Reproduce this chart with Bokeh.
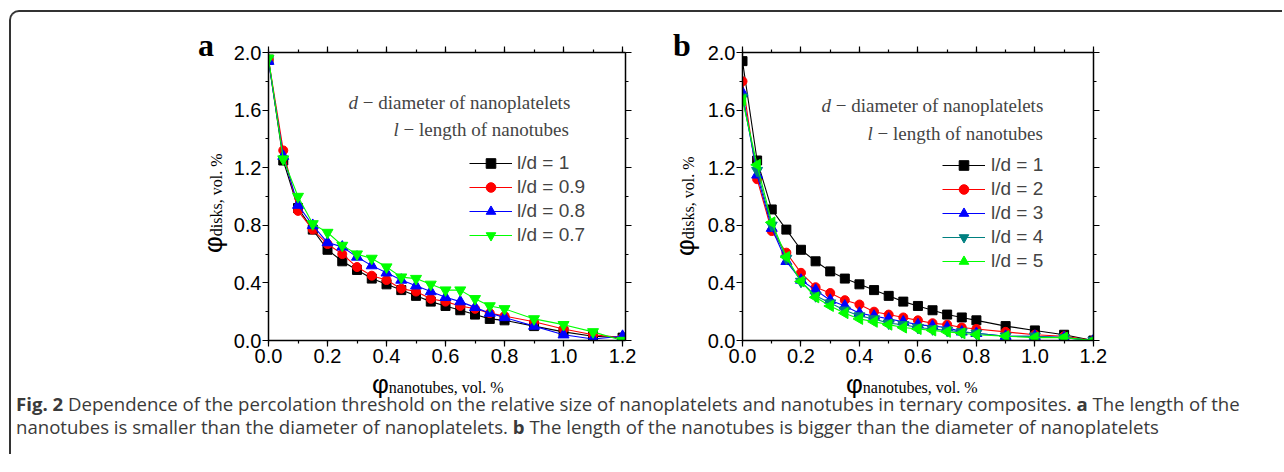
import math
from bokeh.plotting import figure
from bokeh.models import (LinearAxis, SingleIntervalTicker, PrintfTickFormatter,
                          Label, Legend, LegendItem, Div)
from bokeh.layouts import row, column
from bokeh.embed import file_html
from bokeh.resources import INLINE

# ---------------- data ----------------
phi_nanotubes = [0.0, 0.05, 0.1, 0.15, 0.2, 0.25, 0.3, 0.35, 0.4, 0.45, 0.5,
                 0.55, 0.6, 0.65, 0.7, 0.75, 0.8, 0.9, 1.0, 1.1, 1.2]

# panel a : l/d < 1
labels_a = ["l/d = 1", "l/d = 0.9", "l/d = 0.8", "l/d = 0.7"]
a_ld_1 = [1.95, 1.25, 0.92, 0.77, 0.63, 0.55, 0.49, 0.43, 0.39, 0.35, 0.31,
          0.27, 0.24, 0.21, 0.18, 0.15, 0.14, 0.10, 0.06, 0.03, 0.02]
a_ld_09 = [1.95, 1.32, 0.90, 0.77, 0.67, 0.60, 0.51, 0.45, 0.42, 0.36, 0.34,
           0.29, 0.27, 0.24, 0.22, 0.19, 0.17, 0.13, 0.08, 0.04, 0.02]
a_ld_08 = [1.94, 1.28, 0.94, 0.80, 0.68, 0.65, 0.58, 0.52, 0.47, 0.42, 0.38,
           0.34, 0.30, 0.27, 0.23, 0.19, 0.16, 0.10, 0.04, 0.01, 0.03]
a_ld_07 = [1.96, 1.26, 1.00, 0.81, 0.75, 0.66, 0.60, 0.57, 0.51, 0.44, 0.43,
           0.39, 0.35, 0.35, 0.29, 0.24, 0.22, 0.15, 0.11, 0.06, 0.00]

# panel b : l/d > 1
labels_b = ["l/d = 1", "l/d = 2", "l/d = 3", "l/d = 4", "l/d = 5"]
b_ld_1 = [1.94, 1.25, 0.91, 0.77, 0.63, 0.55, 0.48, 0.43, 0.39, 0.35, 0.31,
          0.27, 0.24, 0.21, 0.18, 0.16, 0.14, 0.10, 0.07, 0.04, 0.00]
b_ld_2 = [1.80, 1.12, 0.76, 0.61, 0.47, 0.37, 0.33, 0.28, 0.25, 0.20, 0.18,
          0.16, 0.14, 0.12, 0.11, 0.09, 0.08, 0.06, 0.04, 0.03, 0.00]
b_ld_3 = [1.72, 1.15, 0.78, 0.55, 0.42, 0.35, 0.28, 0.24, 0.19, 0.17, 0.15,
          0.13, 0.11, 0.10, 0.09, 0.06, 0.05, 0.03, 0.03, 0.02, 0.00]
b_ld_4 = [1.69, 1.18, 0.80, 0.57, 0.41, 0.31, 0.26, 0.21, 0.17, 0.15, 0.12,
          0.11, 0.09, 0.08, 0.07, 0.06, 0.05, 0.03, 0.03, 0.02, 0.00]
b_ld_5 = [1.67, 1.22, 0.82, 0.58, 0.41, 0.30, 0.24, 0.19, 0.15, 0.13, 0.11,
          0.09, 0.08, 0.07, 0.06, 0.05, 0.04, 0.03, 0.02, 0.02, 0.00]

x_label_main = "φ"
x_label_sub = "nanotubes"
y_label_sub = "disks"
unit_text = ", vol. %"
note_d = ("d", "− diameter of nanoplatelets")
note_l = ("l", "− length of nanotubes")
caption_html = ("<b>Fig. 2</b> Dependence of the percolation threshold on the relative size of "
                "nanoplatelets and nanotubes in ternary composites. <b>a</b> The length of the<br>"
                "nanotubes is smaller than the diameter of nanoplatelets. <b>b</b> The length of "
                "the nanotubes is bigger than the diameter of nanoplatelets")

SANS = "Liberation Sans"
SERIF = "Liberation Serif"

ORIGIN_X, ORIGIN_Y = 11, 12      # page position of layout content
FIG_H = 358
MB_TOP, FRAME_H = 40, 288


class Panel:
    def __init__(self, page_left, mb_left, fw, mb_right, xmax):
        self.frame_left = page_left + mb_left
        self.frame_top = ORIGIN_Y + MB_TOP
        self.fw, self.fh, self.xmax = fw, FRAME_H, xmax
        p = figure(width=mb_left + fw + mb_right, height=FIG_H, title=None,
                   x_range=(0, xmax), y_range=(0, 2.0),
                   output_backend="svg", toolbar_location=None,
                   min_border_left=mb_left, min_border_right=mb_right,
                   min_border_top=MB_TOP, min_border_bottom=FIG_H - MB_TOP - FRAME_H,
                   background_fill_color="white", border_fill_color="white",
                   outline_line_color=None)
        self.p = p
        p.xgrid.visible = False
        p.ygrid.visible = False
        xt = SingleIntervalTicker(interval=0.2, num_minor_ticks=2)
        yt = SingleIntervalTicker(interval=0.4, num_minor_ticks=2)
        bottom = p.below[0]
        left = p.left[0]
        bottom.ticker = xt
        left.ticker = yt
        top = LinearAxis(ticker=xt)
        right = LinearAxis(ticker=yt)
        p.add_layout(top, "above")
        p.add_layout(right, "right")
        for ax in [bottom, left, top, right]:
            ax.axis_line_width = 1.5
            ax.axis_line_color = "black"
            ax.major_tick_line_color = "black"
            ax.minor_tick_line_color = "black"
            ax.major_tick_line_width = 1.2
            ax.minor_tick_line_width = 1.2
            ax.major_tick_out = 6
            ax.major_tick_in = 0
            ax.minor_tick_out = 3
            ax.minor_tick_in = 0
            ax.formatter = PrintfTickFormatter(format="%.1f")
            ax.major_label_text_font = SANS
            ax.major_label_text_font_size = "20px"
            ax.major_label_text_color = "black"
        bottom.major_label_standoff = 2
        left.major_label_standoff = 1
        for ax in [top, right]:
            ax.major_label_text_font_size = "0px"
            ax.major_label_standoff = 0

    def label(self, px, py, text, **kw):
        x = (px - self.frame_left) / self.fw * self.xmax
        y = (self.frame_top + self.fh - py) / self.fh * 2.0
        self.p.add_layout(Label(x=x, y=y, text=text, **kw))


def add_series(pn, ys, color, marker, size, angle=0.0):
    lr = pn.p.line(phi_nanotubes, ys, line_color=color, line_width=1.1)
    sr = pn.p.scatter(phi_nanotubes, ys, marker=marker, size=size, angle=angle,
                      fill_color=color, line_color=color)
    return [lr, sr]


def notes(pn, dx, lx, dy, ly):
    pn.label(dx, dy, note_d[0], text_font=SERIF, text_font_style="italic",
             text_font_size="19px", text_baseline="middle")
    pn.label(dx + 14.3, dy, note_d[1], text_font=SERIF, text_font_size="19px",
             text_baseline="middle")
    pn.label(lx, ly, note_l[0], text_font=SERIF, text_font_style="italic",
             text_font_size="19px", text_baseline="middle")
    pn.label(lx + 10, ly, note_l[1], text_font=SERIF, text_font_size="19px",
             text_baseline="middle")


def add_legend(pn, items, vx, vy, standoff):
    leg = Legend(items=[LegendItem(label=l, renderers=r) for l, r in items],
                 location=(vx, vy), glyph_width=43, glyph_height=24,
                 label_height=24, spacing=0, padding=0, margin=0,
                 border_line_color=None, background_fill_alpha=0,
                 label_text_font=SANS, label_text_font_size="19px",
                 label_standoff=standoff)
    pn.p.add_layout(leg)


def axis_title_html(sub):
    return (f"<span style=\"font-family:'{SANS}';font-size:26px;\">{x_label_main}</span>"
            f"<span style=\"font-family:'{SERIF}';font-size:16px;\">{sub}{unit_text}</span>")


def side_div(page_left, width, letter, letter_x, ylab_base_x, ylab_start_y):
    # positions given in page pixels, converted to this div's own box
    lx = letter_x - page_left
    ly = 56 - 26.8 - ORIGIN_Y
    px = ylab_base_x - 22.0 - page_left
    py = ylab_start_y - ORIGIN_Y
    html = (
        f"<div style=\"position:relative;width:{width}px;height:{FIG_H}px;\">"
        f"<div style=\"position:absolute;left:{lx}px;top:{ly:.1f}px;font-family:'{SERIF}';"
        f"font-weight:bold;font-size:32px;line-height:32px;color:black;\">{letter}</div>"
        f"<div style=\"position:absolute;left:{px:.1f}px;top:{py}px;white-space:nowrap;"
        f"font-size:26px;line-height:26px;color:black;transform-origin:0 0;"
        f"transform:rotate(-90deg);\">"
        + axis_title_html(y_label_sub) + "</div></div>")
    return Div(text=html, width=width, height=FIG_H, margin=0)


# panel a
LA = side_div(ORIGIN_X, 228 - ORIGIN_X, "a", 198, 222, 253)
A = Panel(page_left=228, mb_left=40, fw=357, mb_right=20, xmax=1.21)
ra = [
    add_series(A, a_ld_1, "black", "square", 9),
    add_series(A, a_ld_09, "#ff0000", "circle", 9),
    add_series(A, a_ld_08, "#0000ff", "triangle", 11),
    add_series(A, a_ld_07, "#00ff00", "inverted_triangle", 11),
]
notes(A, 348, 393, 102, 129)
add_legend(A, list(zip(labels_a, ra)), 201, 93, 5)

# panel b
LB = side_div(645, 702 - 645, "b", 673, 694, 256)
B = Panel(page_left=702, mb_left=40, fw=351, mb_right=189, xmax=1.2005)
rb = [
    add_series(B, b_ld_1, "black", "square", 9),
    add_series(B, b_ld_2, "#ff0000", "circle", 9),
    add_series(B, b_ld_3, "#0000ff", "triangle", 11),
    add_series(B, b_ld_4, "#008080", "inverted_triangle", 11),
    add_series(B, b_ld_5, "#00ff00", "triangle", 11, angle=math.pi / 2),
]
notes(B, 821, 867, 105, 133)
add_legend(B, list(zip(labels_b, rb)), 200, 67, 6)

# bottom area: x-axis titles + figure caption
row_w = (228 - ORIGIN_X) + A.p.width + (702 - 645) + B.p.width
bottom_top = ORIGIN_Y + FIG_H
xb = 390 - 19 - bottom_top + 3
cb = 403 - 13.7 - bottom_top + 3
bottom_html = (
    f"<div style=\"position:relative;width:{row_w}px;height:84px;\">"
    f"<div style=\"position:absolute;left:{372 - ORIGIN_X}px;top:{xb}px;white-space:nowrap;"
    f"font-size:26px;line-height:20px;color:black;\">" + axis_title_html(x_label_sub) + "</div>"
    f"<div style=\"position:absolute;left:{846 - ORIGIN_X}px;top:{xb}px;white-space:nowrap;"
    f"font-size:26px;line-height:20px;color:black;\">" + axis_title_html(x_label_sub) + "</div>"
    f"<div style=\"position:absolute;left:5px;top:{cb:.1f}px;"
    "font-family:'Open Sans';font-size:18.6px;line-height:23px;color:#3a3a3a;"
    "white-space:nowrap;\">" + caption_html + "</div></div>")
bottom_div = Div(text=bottom_html, width=row_w, height=84, margin=0)

layout = column(row(LA, A.p, LB, B.p), bottom_div,
                margin=(10, 0, 0, 9),
                styles={"border-left": "2px solid #333", "border-top": "2px solid #333",
                        "border-top-left-radius": "10px"})

open("out.html", "w").write(file_html(layout, INLINE))
